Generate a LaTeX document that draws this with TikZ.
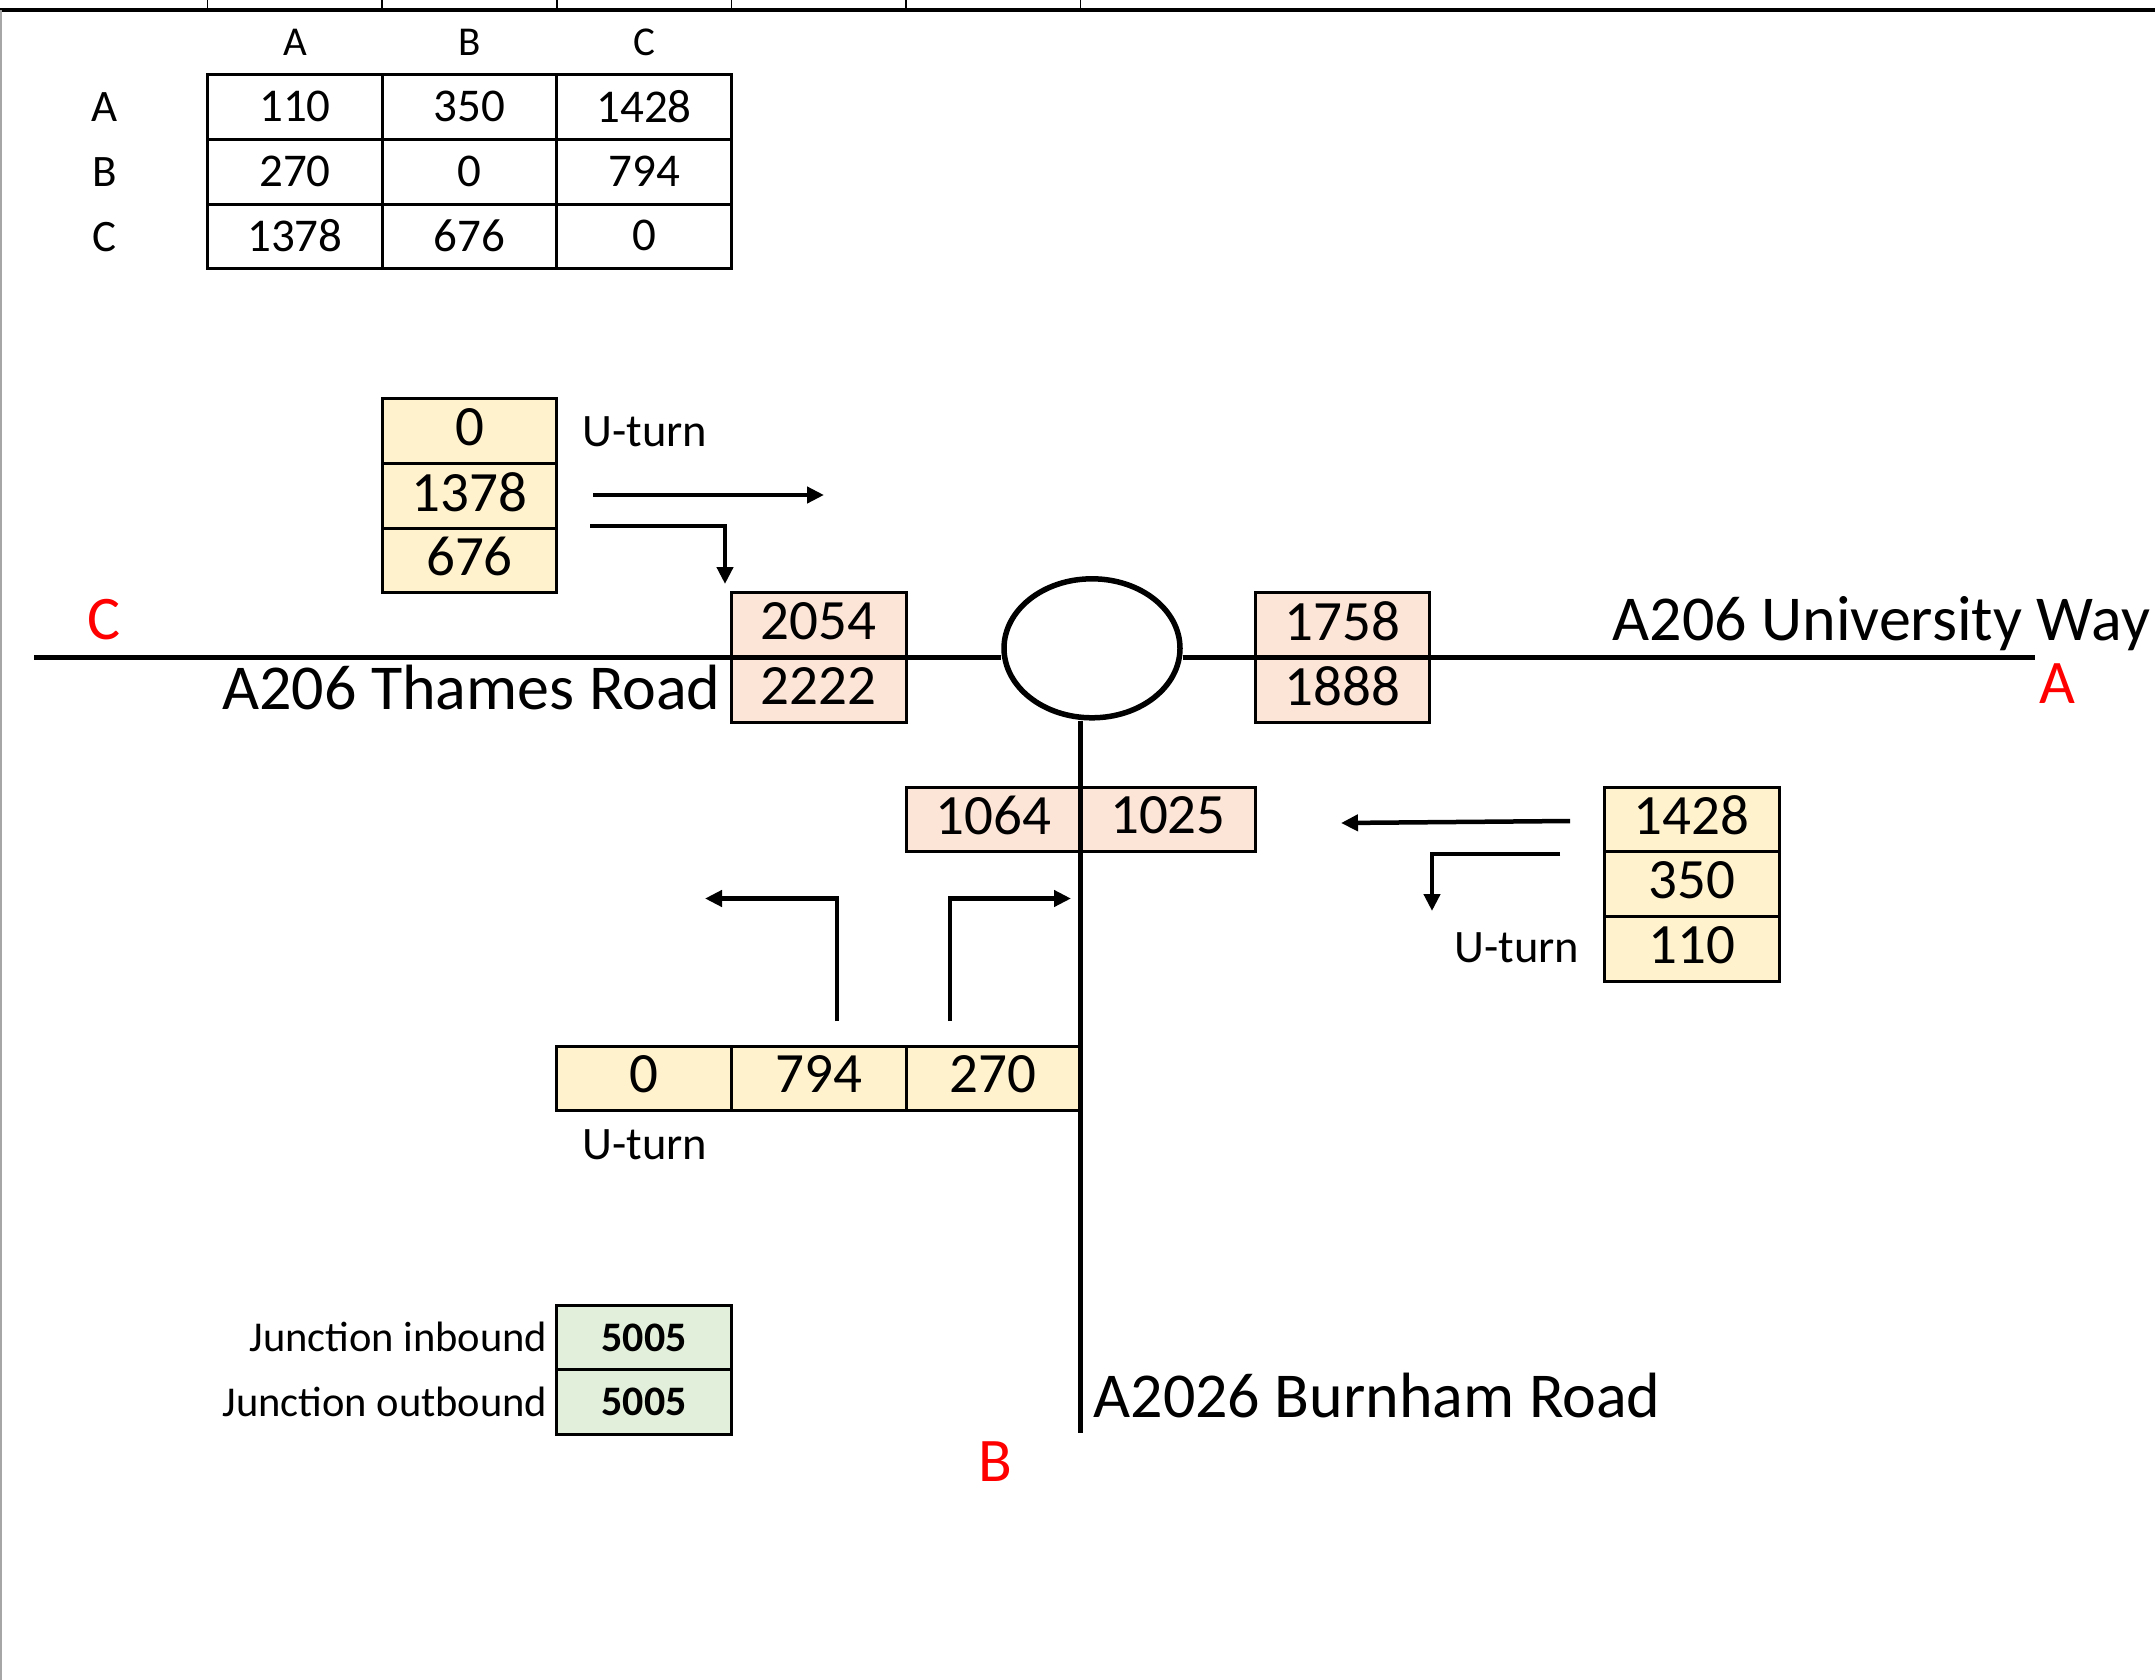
\documentclass[tikz,border=0pt]{standalone}
\usepackage{fontspec}
\setmainfont{Carlito}
\usetikzlibrary{arrows.meta,shapes.geometric}
\definecolor{pinkc}{HTML}{FCE4D6}
\definecolor{yelc}{HTML}{FFF2CC}
\definecolor{grnc}{HTML}{E2EFDA}
\definecolor{redc}{HTML}{FF0000}
\newcommand{\fsz}[1]{\fontsize{#1}{#1}\selectfont}
\begin{document}
\begin{tikzpicture}[x=1pt,y=-1pt,
  cell/.style={draw, line width=3pt, inner sep=0pt, outer sep=0pt, anchor=north west,
    minimum width=174.6pt, minimum height=64.75pt},
  tnum/.style={cell, font=\fsz{47}, text depth=2pt},
  dnum/.style={cell, font=\fsz{57}, text depth=8pt},
  ycell/.style={dnum, fill=yelc},
  pcell/.style={dnum, fill=pinkc},
  gcell/.style={cell, fill=grnc, font=\fsz{42}\bfseries},
  hdr/.style={font=\fsz{41}},
  rlab/.style={font=\fsz{45}},
  uturn/.style={font=\fsz{46.5}},
  roadlab/.style={font=\fsz{64}},
  redlab/.style={font=\fsz{62}, text=redc, anchor=base},
  jlab/.style={font=\fsz{42.5}, anchor=base east},
  road/.style={line width=5.5pt},
  arr/.style={line width=4.5pt, -{Triangle[length=17pt,width=16pt]}}
]
\useasboundingbox (0,0) rectangle (2155,1680);

% sheet frame
\draw[line width=4pt] (0,10) -- (2155,10);
\foreach \xx in {207.6,382.2,556.8,731.4,906,1080.6} \draw[line width=1.5pt] (\xx,0) -- (\xx,10);
\draw[black!35, line width=1.5pt] (1,10) -- (1,1680);

% OD table
\node[hdr] (hA) at (295,42) {A};
\node[hdr] (hB) at (469.5,42) {B};
\node[hdr] (hC) at (644,42) {C};
\node[rlab] (rA) at (104.5,107) {A};
\node[rlab] (rB) at (104.5,172) {B};
\node[rlab] (rC) at (104.5,236.6) {C};
\node[tnum] (tAA) at (207.6,74.75) {110};
\node[tnum] (tAB) at (382.2,74.75) {350};
\node[tnum] (tAC) at (556.8,74.75) {1428};
\node[tnum] (tBA) at (207.6,139.5) {270};
\node[tnum] (tBB) at (382.2,139.5) {0};
\node[tnum] (tBC) at (556.8,139.5) {794};
\node[tnum] (tCA) at (207.6,204.25) {1378};
\node[tnum] (tCB) at (382.2,204.25) {676};
\node[tnum] (tCC) at (556.8,204.25) {0};

% C approach
\node[ycell] (yc1) at (382.2,398.5) {0};
\node[ycell] (yc2) at (382.2,463.25) {1378};
\node[ycell] (yc3) at (382.2,528) {676};
\node[uturn] (uc) at (645,432) {U-turn};

% link boxes
\node[pcell] (pl1) at (731.4,592.75) {2054};
\node[pcell] (pl2) at (731.4,657.5) {2222};
\node[pcell] (pr1) at (1255.2,592.75) {1758};
\node[pcell] (pr2) at (1255.2,657.5) {1888};
\node[pcell] (pb1) at (906,787) {1064};
\node[pcell] (pb2) at (1080.6,787) {1025};

% A approach
\node[ycell] (ya1) at (1604.4,787) {1428};
\node[ycell] (ya2) at (1604.4,851.75) {350};
\node[ycell] (ya3) at (1604.4,916.5) {110};
\node[uturn] (ua) at (1517,947.5) {U-turn};

% B approach
\node[ycell] (yb1) at (556.8,1046) {0};
\node[ycell] (yb2) at (731.4,1046) {794};
\node[ycell] (yb3) at (906,1046) {270};
\node[uturn] (ub) at (645,1145) {U-turn};

% junction totals
\node[gcell] (g1) at (556.8,1305) {5005};
\node[gcell] (g2) at (556.8,1369.75) {5005};
\node[jlab] (ji) at (551,1351) {Junction inbound};
\node[jlab] (jo) at (551,1416.5) {Junction outbound};

% roundabout and roads
\node[ellipse, draw, line width=5.5pt, minimum width=176pt, minimum height=139pt, inner sep=0pt] (rb) at (1092,648.3) {};
\coordinate (W) at (34,657.5);
\coordinate (E) at (2035,657.5);
\coordinate (S) at (1080.6,1433);
\draw[road] (W) -- (rb.west |- W);
\draw[road] (rb.east |- E) -- (E);
\draw[road] (S |- rb.south) -- (S);

% road labels
\node[roadlab, anchor=base east] (lt) at (724,709) {A206 Thames Road};
\node[roadlab, anchor=base west] (lu) at (1609,640) {A206 University Way};
\node[roadlab, anchor=base west] (lb) at (1090,1417) {A2026 Burnham Road};
\node[redlab] (lC) at (104.5,639) {C};
\node[redlab] (lA) at (2057.5,703) {A};
\node[redlab] (lB) at (995.5,1481) {B};

% turning arrows
\coordinate (c1s) at (593,495);  \coordinate (c1e) at (824,495);
\coordinate (c2s) at (590,526);  \coordinate (c2e) at (725,584);
\draw[arr] (c1s) -- (c1e);
\draw[arr] (c2s) -| (c2e);
\coordinate (a1s) at (1570,821); \coordinate (a1e) at (1341,823);
\coordinate (a2s) at (1560,854); \coordinate (a2e) at (1432,911);
\draw[arr] (a1s) -- (a1e);
\draw[arr] (a2s) -| (a2e);
\coordinate (b1s) at (837,1021); \coordinate (b1e) at (705,898.5);
\coordinate (b2s) at (950,1021); \coordinate (b2e) at (1071,898.5);
\draw[arr] (b1s) |- (b1e);
\draw[arr] (b2s) |- (b2e);
\end{tikzpicture}
\end{document}
